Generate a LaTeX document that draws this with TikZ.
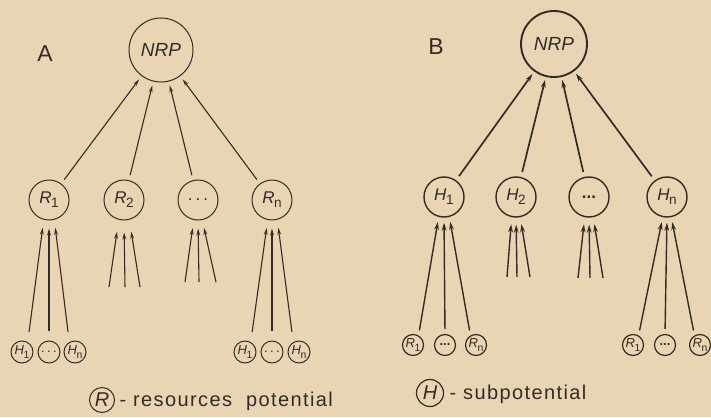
\documentclass[tikz,border=0pt]{standalone}
\usepackage{fontspec}
\setmainfont{Liberation Sans}
\usetikzlibrary{arrows.meta}

\definecolor{paper}{RGB}{233,213,179}
\definecolor{ink}{RGB}{50,43,40}

% italic letter with a small upright index
\newcommand\idx[2]{\textit{#1}\kern-0.02em\raisebox{-0.45ex}{\scalebox{0.8}{#2}}}
\newcommand\gapdots{.\kern0.18em.\kern0.18em.}

\tikzset{
  ring/.style={circle,draw=ink,inner sep=0pt,text=ink,line width=1pt},
  topring/.style={ring,minimum size=64pt,font=\fontsize{19}{19}\selectfont\itshape},
  midring/.style={ring,minimum size=40pt,font=\fontsize{17}{17}\selectfont},
  lowring/.style={ring,minimum size=22pt,font=\fontsize{13}{13}\selectfont},
  keyring/.style={ring,minimum size=25pt,font=\fontsize{20}{20}\selectfont\itshape},
  thinarrow/.style={draw=ink,line width=1.1pt,-{Stealth[length=7pt,width=3.8pt]}},
  thickarrow/.style={draw=ink,line width=1.7pt,-{Stealth[length=8pt,width=4.8pt]}},
  panel/.style={text=ink,font=\fontsize{23}{23}\selectfont},
  keytext/.style={text=ink,anchor=west,font=\fontsize{20}{20}\selectfont\addfontfeatures{LetterSpace=7}},
}

\begin{document}
\begin{tikzpicture}[x=1pt,y=-1pt]
\fill[paper] (0,0) rectangle (711,417);
\useasboundingbox (0,0) rectangle (711,417);

%% ---------------- A: resources potentials ----------------
\node[panel] (labA) at (45,54) {A};
\node[topring] (nrpA) at (161,50) {NRP};

\node[midring] (rA1) at (49,200) {\idx{R}{1}};
\node[midring] (rA2) at (124,200) {\idx{R}{2}};
\node[midring] (rAd) at (198,200) {\gapdots};
\node[midring] (rAn) at (272,200) {\idx{R}{n}};

\foreach \r in {rA1,rA2,rAd,rAn}
  \draw[thinarrow,shorten <=5pt,shorten >=4pt] (\r) -- (nrpA);

% subpotentials feeding R_1
\node[lowring] (hA11) at (22,352) {\idx{H}{1}};
\node[lowring] (hA1d) at (49,352) {\gapdots};
\node[lowring] (hA1n) at (75,352) {\idx{H}{n}};
\draw[thinarrow,shorten <=10pt,shorten >=8pt] (hA11.60) -- (rA1.255);
\draw[thinarrow,shorten <=10pt,shorten >=8pt] (hA1d.north) -- (rA1.south);
\draw[thinarrow,shorten <=10pt,shorten >=8pt] (hA1n.120) -- (rA1.285);

% open inputs of R_2 and of the dotted node
\coordinate (tA21) at (109,287);
\coordinate (tA22) at (125,287);
\coordinate (tA23) at (140,287);
\draw[thinarrow,shorten >=12pt] (tA21) -- (rA2.255);
\draw[thinarrow,shorten >=12pt] (tA22) -- (rA2.south);
\draw[thinarrow,shorten >=12pt] (tA23) -- (rA2.285);

\coordinate (tAd1) at (185,282);
\coordinate (tAd2) at (199,282);
\coordinate (tAd3) at (216,282);
\draw[thinarrow,shorten >=8pt] (tAd1) -- (rAd.258);
\draw[thinarrow,shorten >=8pt] (tAd2) -- (rAd.south);
\draw[thinarrow,shorten >=8pt] (tAd3) -- (rAd.282);

% subpotentials feeding R_n
\node[lowring] (hAn1) at (245,352) {\idx{H}{1}};
\node[lowring] (hAnd) at (272,352) {\gapdots};
\node[lowring] (hAnn) at (299,352) {\idx{H}{n}};
\draw[thinarrow,shorten <=10pt,shorten >=8pt] (hAn1.60) -- (rAn.258);
\draw[thinarrow,shorten <=10pt,shorten >=8pt] (hAnd.north) -- (rAn.south);
\draw[thinarrow,shorten <=10pt,shorten >=8pt] (hAnn.120) -- (rAn.285);

% key
\node[keyring] (keyR) at (102,400) {R};
\node[keytext] (keyRtxt) at (116,401) {- resources\ \ potential};

%% ---------------- B: subpotentials ----------------
\node[panel] (labB) at (436,47) {B};
\node[topring,line width=1.9pt,minimum size=66pt] (nrpB) at (554,44) {NRP};

\node[midring,line width=1.4pt] (hB1) at (444,197) {\idx{H}{1}};
\node[midring,line width=1.4pt] (hB2) at (516,197) {\idx{H}{2}};
\node[midring,line width=1.4pt] (hBd) at (589,197) {\textbf{...}};
\node[midring,line width=1.4pt] (hBn) at (667,197) {\idx{H}{n}};

\foreach \h in {hB1,hB2,hBd,hBn}
  \draw[thickarrow,shorten <=5pt,shorten >=3pt] (\h) -- (nrpB);

% resources feeding H_1
\node[lowring,line width=1.2pt,minimum size=21pt] (rB11) at (413,345) {\idx{R}{1}};
\node[lowring,line width=1.2pt,minimum size=21pt] (rB1d) at (445,345) {\textbf{...}};
\node[lowring,line width=1.2pt,minimum size=21pt] (rB1n) at (476,345) {\idx{R}{n}};
\draw[thickarrow,line width=1.4pt,shorten <=5pt,shorten >=5pt] (rB11.60) -- (hB1.255);
\draw[thickarrow,line width=1.4pt,shorten <=5pt,shorten >=5pt] (rB1d.north) -- (hB1.south);
\draw[thickarrow,line width=1.4pt,shorten <=5pt,shorten >=5pt] (rB1n.120) -- (hB1.285);

% open inputs of H_2 and of the dotted node
\coordinate (tB21) at (507,277);
\coordinate (tB22) at (517,277);
\coordinate (tB23) at (530,277);
\draw[thickarrow,line width=1.4pt,shorten >=7pt] (tB21) -- (hB2.258);
\draw[thickarrow,line width=1.4pt,shorten >=7pt] (tB22) -- (hB2.south);
\draw[thickarrow,line width=1.4pt,shorten >=7pt] (tB23) -- (hB2.282);

\coordinate (tBd1) at (578,278);
\coordinate (tBd2) at (590,278);
\coordinate (tBd3) at (603,278);
\draw[thickarrow,line width=1.4pt,shorten >=7pt] (tBd1) -- (hBd.258);
\draw[thickarrow,line width=1.4pt,shorten >=7pt] (tBd2) -- (hBd.south);
\draw[thickarrow,line width=1.4pt,shorten >=7pt] (tBd3) -- (hBd.282);

% resources feeding H_n
\node[lowring,line width=1.2pt,minimum size=21pt] (rBn1) at (633,345) {\idx{R}{1}};
\node[lowring,line width=1.2pt,minimum size=21pt] (rBnd) at (665,345) {\textbf{...}};
\node[lowring,line width=1.2pt,minimum size=21pt] (rBnn) at (700,345) {\idx{R}{n}};
\draw[thickarrow,line width=1.4pt,shorten <=5pt,shorten >=5pt] (rBn1.60) -- (hBn.258);
\draw[thickarrow,line width=1.4pt,shorten <=5pt,shorten >=5pt] (rBnd.north) -- (hBn.south);
\draw[thickarrow,line width=1.4pt,shorten <=5pt,shorten >=5pt] (rBnn.120) -- (hBn.282);

% key
\node[keyring,line width=1.2pt,minimum size=27pt] (keyH) at (430,393) {H};
\node[keytext] (keyHtxt) at (446,394) {- subpotential};

\end{tikzpicture}
\end{document}
